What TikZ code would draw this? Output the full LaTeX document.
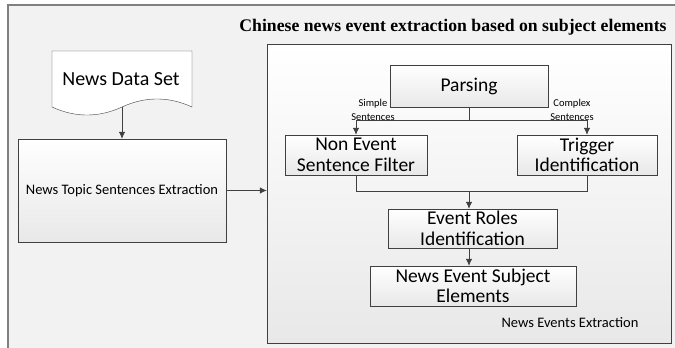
\documentclass[tikz,border=0pt]{standalone}
\usepackage{fontspec}
\setmainfont{Carlito}
\newfontfamily\titlefont{Liberation Serif}
\usetikzlibrary{arrows.meta}

\tikzset{
  box/.style={draw=black!75, top color=white, bottom color=black!9, align=center, inner sep=0pt},
  big/.style={font=\fontsize{19.5}{20.5}\selectfont},
  small/.style={font=\fontsize{10.5}{14}\selectfont, align=center},
  conn/.style={draw=black!75, line width=0.8pt},
}

\begin{document}
\begin{tikzpicture}[x=1pt,y=-1pt,>={Latex[length=7pt,width=6.5pt]}]
\useasboundingbox (0,0) rectangle (675,348);
\clip (0,0) rectangle (675,348);
\draw[black!50, fill=black!5, line width=1.2pt] (8,5) rectangle (700,370);

\node[font=\titlefont\bfseries\fontsize{17.7}{19}\selectfont] (Title) at (453,27) {Chinese news event extraction based on subject elements};

\node[box, minimum width=404pt, minimum height=299pt] (Ext) at (469,193.5) {};

% data set
\draw[black!75, fill=white] (52,51) -- (192,51) -- (192,107) .. controls (168.7,96.3) and (145.3,96.3) .. (122,107) .. controls (98.7,117.7) and (75.3,117.7) .. (52,107) -- cycle;
\node[font=\fontsize{20}{22}\selectfont] (Data) at (121,79) {News Data Set};
\coordinate (DataB) at (122,107);

\node[box, minimum width=208pt, minimum height=103pt, font=\fontsize{14.5}{16}\selectfont] (Topic) at (122,190.5) {News Topic Sentences Extraction};

\node[box, big, minimum width=158pt, minimum height=42pt] (Parse) at (469,86) {Parsing};
\node[box, big, minimum width=142pt, minimum height=40pt] (Filter) at (356,155) {Non Event\\Sentence Filter};
\node[box, big, minimum width=140pt, minimum height=40pt] (Trigger) at (587,155) {Trigger\\Identification};
\node[box, big, minimum width=169pt, minimum height=39pt] (Roles) at (472.5,228.5) {Event Roles\\Identification};
\node[box, big, minimum width=206pt, minimum height=40pt] (Subject) at (473,286) {News Event Subject\\Elements};

\coordinate (J1) at (469,120);
\coordinate (J2) at (469,191);

\path[->] (DataB) edge [conn] node[]{} (Topic);
\path[->] (Topic.east) edge [conn] node[]{} (Topic.east -| Ext.west);

\draw[conn] (Parse) -- (J1);
\draw[conn, ->] (J1) -| (Filter);
\draw[conn, ->] (J1) -| (Trigger);

\draw[conn] (Filter) |- (J2);
\draw[conn] (Trigger) |- (J2);
\path[->] (J2) edge [conn] node[]{} (J2 |- Roles.north);
\path[->] (Roles.south -| J2) edge [conn] node[]{} (J2 |- Subject.north);

\node[small] at (373,110) {Simple\\Sentences};
\node[small] at (572,110) {Complex\\Sentences};

\node[font=\fontsize{14.5}{16}\selectfont] at (570,323) {News Events Extraction};
\end{tikzpicture}
\end{document}
